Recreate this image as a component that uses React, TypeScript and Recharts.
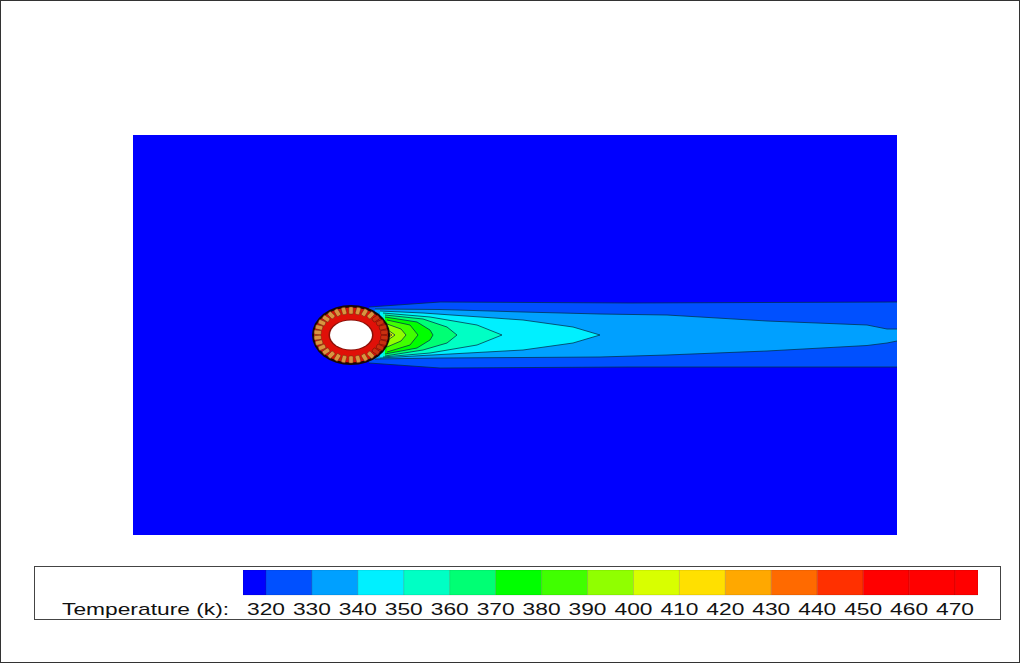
import { Area, Bar, BarChart, ComposedChart, Scatter, XAxis, YAxis } from 'recharts';

// Plot coordinates: distance from the cylinder centre
const X_DOMAIN: [number, number] = [-21.8, 54.6];
const Y_DOMAIN: [number, number] = [-20, 20];

// Contour bands, outermost first: x, upper edge, lower edge
const band320X = [-21.8, 54.6];
const band320Top = [20, 20];
const band320Bottom = [-20, -20];

const band330X = [1.8, 8.9, 27.9, 54.6];
const band330Top = [2.8, 3.3, 3.2, 3.3];
const band330Bottom = [-2.8, -3.3, -3.2, -3.2];

const band340X = [2.4, 8.9, 17.2, 24.9, 31.6, 41.6, 51.6, 53.6, 54.6];
const band340Top = [2.6, 2.55, 2.3, 2.1, 2.0, 1.4, 1.0, 0.6, 0.6];
const band340Bottom = [-2.4, -2.3, -2.25, -2.2, -2.0, -1.6, -1.05, -0.8, -0.6];

const band350X = [2.9, 7.2, 17.2, 22.2, 24.9];
const band350Top = [2.4, 2.2, 1.5, 0.8, 0];
const band350Bottom = [-2.3, -2.05, -1.5, -0.8, 0];

const band360X = [3.2, 7.9, 12.6, 15.1];
const band360Top = [2.2, 1.8, 1.0, 0];
const band360Bottom = [-2.2, -1.8, -1.0, 0];

const band370X = [3.4, 7.2, 9.6, 10.6];
const band370Top = [2.0, 1.6, 0.8, 0];
const band370Bottom = [-2.1, -1.5, -0.8, 0];

const band380X = [3.4, 6.6, 7.9, 8.2];
const band380Top = [1.8, 1.3, 0.5, 0];
const band380Bottom = [-1.9, -1.3, -0.5, 0];

const band390X = [3.6, 5.9, 6.7];
const band390Top = [1.5, 1.0, 0];
const band390Bottom = [-1.7, -1.0, 0];

const band400X = [3.6, 5.0, 5.5];
const band400Top = [1.1, 0.6, 0];
const band400Bottom = [-1.2, -0.6, 0];

const band410X = [3.7, 4.4];
const band410Top = [0.5, 0];
const band410Bottom = [-0.5, 0];

const band420X = [3.7, 4.1];
const band420Top = [0.25, 0];
const band420Bottom = [-0.25, 0];

// Tan cooling holes around the cylinder wall, and the darker ones on the hot side
const holeX = [0, 0.7, 1.36, 1.97, -0.7, -1.36, -1.97, -2.49, -2.9, -3.19, -3.33, -3.33, -3.19, -2.9, -2.49, -1.97, -1.36, -0.7, 0, 0.7, 1.36, 1.97];
const holeY = [2.45, 2.4, 2.24, 1.98, 2.4, 2.24, 1.98, 1.64, 1.23, 0.76, 0.26, -0.26, -0.76, -1.23, -1.64, -1.98, -2.24, -2.4, -2.45, -2.4, -2.24, -1.98];
const hotHoleX = [2.49, 2.9, 3.19, 3.33, 3.33, 3.19, 2.9, 2.49];
const hotHoleY = [1.64, 1.23, 0.76, 0.26, -0.26, -0.76, -1.23, -1.64];

// Colour legend
const legendTicks = [320, 330, 340, 350, 360, 370, 380, 390, 400, 410, 420, 430, 440, 450, 460, 470];
const legendWidths = [5, 10, 10, 10, 10, 10, 10, 10, 10, 10, 10, 10, 10, 10, 10, 10, 5];
const legendColors = ['#0000ff', '#0050ff', '#00a0ff', '#00f0ff', '#00ffc4', '#00ff74', '#00ff00', '#40ff00', '#90ff00', '#d8ff00', '#ffe000', '#ffa800', '#ff6a00', '#ff3000', '#ff0000', '#ff0000', '#ff0000'];

const makeBand = (xs: number[], top: number[], bottom: number[]) =>
  xs.map((x, i) => ({ x, range: [bottom[i], top[i]] }));

const bands = [
  { color: legendColors[0], data: makeBand(band320X, band320Top, band320Bottom) },
  { color: legendColors[1], data: makeBand(band330X, band330Top, band330Bottom) },
  { color: legendColors[2], data: makeBand(band340X, band340Top, band340Bottom) },
  { color: legendColors[3], data: makeBand(band350X, band350Top, band350Bottom) },
  { color: legendColors[4], data: makeBand(band360X, band360Top, band360Bottom) },
  { color: legendColors[5], data: makeBand(band370X, band370Top, band370Bottom) },
  { color: legendColors[6], data: makeBand(band380X, band380Top, band380Bottom) },
  { color: legendColors[7], data: makeBand(band390X, band390Top, band390Bottom) },
  { color: legendColors[8], data: makeBand(band400X, band400Top, band400Bottom) },
  { color: legendColors[9], data: makeBand(band410X, band410Top, band410Bottom) },
  { color: legendColors[10], data: makeBand(band420X, band420Top, band420Bottom) },
];

const holes = holeX.map((x, i) => ({ x, y: holeY[i] }));
const hotHoles = hotHoleX.map((x, i) => ({ x, y: hotHoleY[i] }));
const centre = [{ x: 0, y: 0 }];

const legendRow: Record<string, number | string> = { name: 'T', base: 315 };
legendWidths.forEach((w, i) => {
  legendRow[`c${i}`] = w;
});

// The source image is stretched sideways, so glyphs and the cylinder are too
const STRETCH = 1.34;
const FONT = '"Liberation Sans", Arial, sans-serif';

function CylinderShape({ cx, cy }: any) {
  return (
    <g>
      <ellipse cx={cx} cy={cy} rx={39} ry={30} fill="#160806" />
      <ellipse cx={cx} cy={cy} rx={37} ry={27.5} fill="#e01008" />
      <ellipse cx={cx} cy={cy} rx={22.5} ry={15.5} fill="#8a1008" />
      <ellipse cx={cx} cy={cy} rx={21} ry={14.5} fill="#ffffff" />
    </g>
  );
}

function holeShape(fill: string, edge: string) {
  return function HoleShape({ cx, cy, payload }: any) {
    const angle = (Math.atan2(-payload.y, payload.x) * 180) / Math.PI;
    return (
      <rect
        x={cx - 3.6}
        y={cy - 2.2}
        width={7.2}
        height={4.4}
        rx={1.2}
        fill={fill}
        stroke={edge}
        strokeWidth={0.5}
        transform={`rotate(${angle} ${cx} ${cy})`}
      />
    );
  };
}

function LegendTick({ x, y, payload }: any) {
  return (
    <text
      transform={`translate(${x},${y + 14}) scale(${STRETCH},1)`}
      textAnchor="middle"
      fontFamily={FONT}
      fontSize={17}
      fill="#111111"
    >
      {payload.value}
    </text>
  );
}

export default function App() {
  return (
    <div style={{ position: 'absolute', left: 0, top: 0, width: 1020, height: 664, background: '#ffffff' }}>
      <div style={{ position: 'absolute', left: 0, top: 0, width: 1018, height: 661, border: '1px solid #333333' }} />

      <div style={{ position: 'absolute', left: 133, top: 135 }}>
        <ComposedChart width={764} height={400} margin={{ top: 0, right: 0, bottom: 0, left: 0 }}>
          <XAxis type="number" dataKey="x" domain={X_DOMAIN} hide allowDataOverflow />
          <YAxis type="number" dataKey="y" domain={Y_DOMAIN} hide allowDataOverflow />
          {bands.map((band, i) => (
            <Area
              key={i}
              data={band.data}
              dataKey="range"
              type="linear"
              fill={band.color}
              fillOpacity={1}
              stroke={i === 0 ? 'none' : '#00304a'}
              strokeOpacity={0.75}
              strokeWidth={1}
              dot={false}
              activeDot={false}
              isAnimationActive={false}
            />
          ))}
          <Scatter data={centre} dataKey="y" shape={CylinderShape} isAnimationActive={false} />
          <Scatter data={holes} dataKey="y" shape={holeShape('#d89440', '#6a2a10')} isAnimationActive={false} />
          <Scatter data={hotHoles} dataKey="y" shape={holeShape('#c83010', '#5a1008')} isAnimationActive={false} />
        </ComposedChart>
      </div>

      <div style={{ position: 'absolute', left: 34, top: 566, width: 965, height: 52, border: '1px solid #444444' }} />
      <div
        style={{
          position: 'absolute',
          left: 62,
          top: 600,
          fontFamily: FONT,
          fontSize: 17,
          lineHeight: '20px',
          color: '#111111',
          whiteSpace: 'nowrap',
          transform: `scaleX(${STRETCH})`,
          transformOrigin: 'left top',
        }}
      >
        Temperature (k):
      </div>
      <div style={{ position: 'absolute', left: 243, top: 570 }}>
        <BarChart
          width={735}
          height={49}
          layout="vertical"
          data={[legendRow]}
          barCategoryGap={0}
          margin={{ top: 0, right: 0, bottom: 0, left: 0 }}
        >
          <XAxis
            type="number"
            domain={[315, 475]}
            ticks={legendTicks}
            interval={0}
            height={24}
            axisLine={false}
            tickLine={false}
            tick={LegendTick}
            tickMargin={0}
            allowDataOverflow
          />
          <YAxis type="category" dataKey="name" hide />
          <Bar dataKey="base" stackId="t" fill="none" isAnimationActive={false} />
          {legendWidths.map((_, i) => (
            <Bar
              key={i}
              dataKey={`c${i}`}
              stackId="t"
              fill={legendColors[i]}
              stroke="#000000"
              strokeOpacity={0.12}
              strokeWidth={1}
              isAnimationActive={false}
            />
          ))}
        </BarChart>
      </div>
    </div>
  );
}
